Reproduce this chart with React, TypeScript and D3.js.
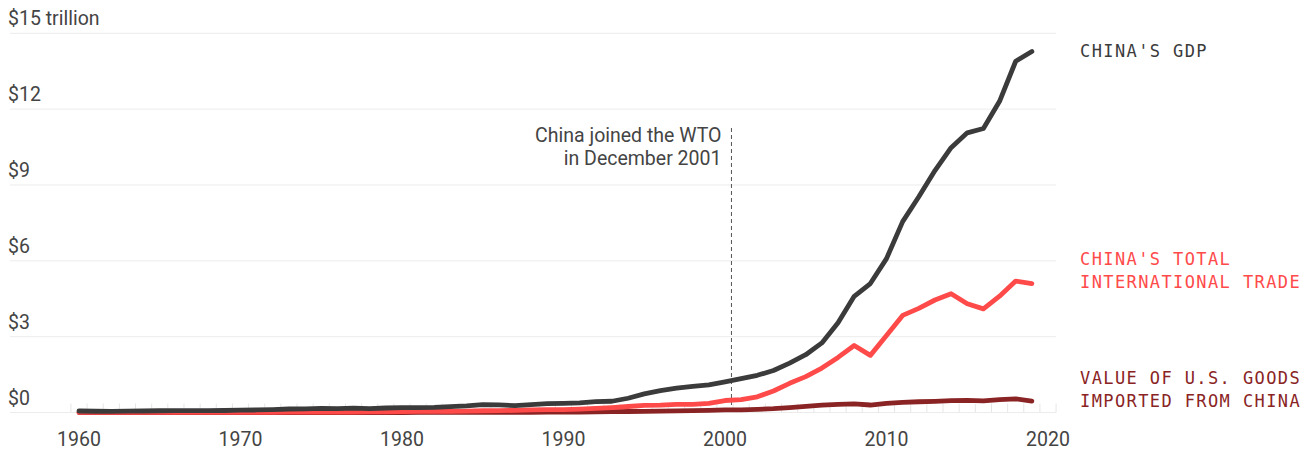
import React from 'react';
import * as d3 from 'd3';

const years = d3.range(1960, 2020);

// trillion US$
const gdp = [
  0.060, 0.050, 0.047, 0.051, 0.060, 0.070, 0.077, 0.073, 0.071, 0.080,
  0.093, 0.100, 0.114, 0.139, 0.144, 0.163, 0.154, 0.175, 0.150, 0.178,
  0.191, 0.196, 0.205, 0.230, 0.260, 0.309, 0.301, 0.273, 0.313, 0.348,
  0.361, 0.383, 0.427, 0.445, 0.564, 0.734, 0.864, 0.962, 1.029, 1.094,
  1.211, 1.339, 1.471, 1.660, 1.955, 2.286, 2.752, 3.552, 4.594, 5.102,
  6.087, 7.552, 8.532, 9.570, 10.476, 11.062, 11.233, 12.310, 13.895, 14.280,
];

const trade = [
  0.004, 0.003, 0.003, 0.003, 0.004, 0.004, 0.005, 0.004, 0.004, 0.004,
  0.005, 0.005, 0.006, 0.011, 0.015, 0.015, 0.013, 0.015, 0.021, 0.029,
  0.038, 0.044, 0.042, 0.044, 0.054, 0.070, 0.074, 0.083, 0.103, 0.112,
  0.115, 0.136, 0.166, 0.196, 0.237, 0.281, 0.290, 0.325, 0.324, 0.361,
  0.474, 0.510, 0.621, 0.851, 1.155, 1.420, 1.760, 2.180, 2.650, 2.260,
  3.050, 3.840, 4.120, 4.450, 4.700, 4.300, 4.100, 4.600, 5.200, 5.100,
];

const usImports = [
  0, 0, 0, 0, 0, 0, 0, 0, 0, 0,
  0, 0, 0.0001, 0.0001, 0.0001, 0.0002, 0.0002, 0.0002, 0.0003, 0.0006,
  0.001, 0.002, 0.002, 0.002, 0.003, 0.004, 0.005, 0.006, 0.009, 0.012,
  0.015, 0.019, 0.026, 0.032, 0.039, 0.046, 0.052, 0.063, 0.071, 0.082,
  0.100, 0.102, 0.125, 0.152, 0.197, 0.243, 0.288, 0.321, 0.338, 0.296,
  0.365, 0.399, 0.426, 0.440, 0.468, 0.483, 0.463, 0.506, 0.540, 0.452,
];

const yTicks = [0, 3, 6, 9, 12, 15];
const xTicks = [1960, 1970, 1980, 1990, 2000, 2010, 2020];
const wtoYear = 2000.4;

const series = [
  { name: 'usImports', values: usImports, color: '#8a2424', label: ['VALUE OF U.S. GOODS', 'IMPORTED FROM CHINA'], labelY: 384 },
  { name: 'trade', values: trade, color: '#ff4a4a', label: ["CHINA'S TOTAL", 'INTERNATIONAL TRADE'], labelY: 265 },
  { name: 'gdp', values: gdp, color: '#3b3b3b', label: ["CHINA'S GDP"], labelY: 57 },
];

const W = 1313;
const H = 455;

export default function App() {
  const x = d3.scaleLinear().domain([1960, 2020]).range([79, 1048]);
  const y = d3.scaleLinear().domain([0, 15]).range([412.5, 33.3]);

  const line = d3
    .line<number>()
    .x((_, i) => x(years[i]))
    .y((d) => y(d))
    .curve(d3.curveLinear);

  const minor = d3.range(1959.5, 2021, 1);
  const font = 'Roboto, "Noto Sans", sans-serif';
  const mono = '"DejaVu Sans Mono", "Liberation Mono", monospace';
  const fs = 19.5;

  return (
    <div>
      <style>{'body{margin:0}'}</style>
      <svg width={W} height={H} style={{ display: 'block' }}>
        {/* grid */}
        {yTicks.map((t) => (
          <g key={t}>
            <line x1={10} x2={x(2020.5)} y1={y(t)} y2={y(t)} stroke="#ececec" strokeWidth={1} />
            <text x={8} y={y(t) - 8} fontFamily={font} fontSize={fs} fill="#444">
              {t === 15 ? '$15 trillion' : `$${t}`}
            </text>
          </g>
        ))}
        {minor.map((m) => (
          <line key={m} x1={x(m)} x2={x(m)} y1={y(0) - 9} y2={y(0)} stroke="#e6e6e6" strokeWidth={1} />
        ))}
        {xTicks.map((t) => (
          <text key={t} x={x(t)} y={446} textAnchor="middle" fontFamily={font} fontSize={fs} fill="#444">
            {t}
          </text>
        ))}

        {/* WTO annotation */}
        <line
          x1={x(wtoYear)}
          x2={x(wtoYear)}
          y1={128}
          y2={y(0)}
          stroke="#555"
          strokeWidth={1}
          strokeDasharray="4,3"
        />
        <text x={x(wtoYear) - 10} y={142} textAnchor="end" fontFamily={font} fontSize={fs} fill="#444">
          China joined the WTO
        </text>
        <text x={x(wtoYear) - 10} y={165} textAnchor="end" fontFamily={font} fontSize={fs} fill="#444">
          in December 2001
        </text>

        {/* lines */}
        {series.map((s) => (
          <path
            key={s.name}
            d={line(s.values) || ''}
            fill="none"
            stroke={s.color}
            strokeWidth={4.8}
            strokeLinejoin="round"
            strokeLinecap="round"
          />
        ))}

        {/* labels */}
        {series.map((s) =>
          s.label.map((l, i) => (
            <text
              key={s.name + i}
              x={1080}
              y={s.labelY + i * 23}
              fontFamily={mono}
              fontSize={17}
              letterSpacing={1.4}
              fill={s.color}
            >
              {l}
            </text>
          ))
        )}
      </svg>
    </div>
  );
}
